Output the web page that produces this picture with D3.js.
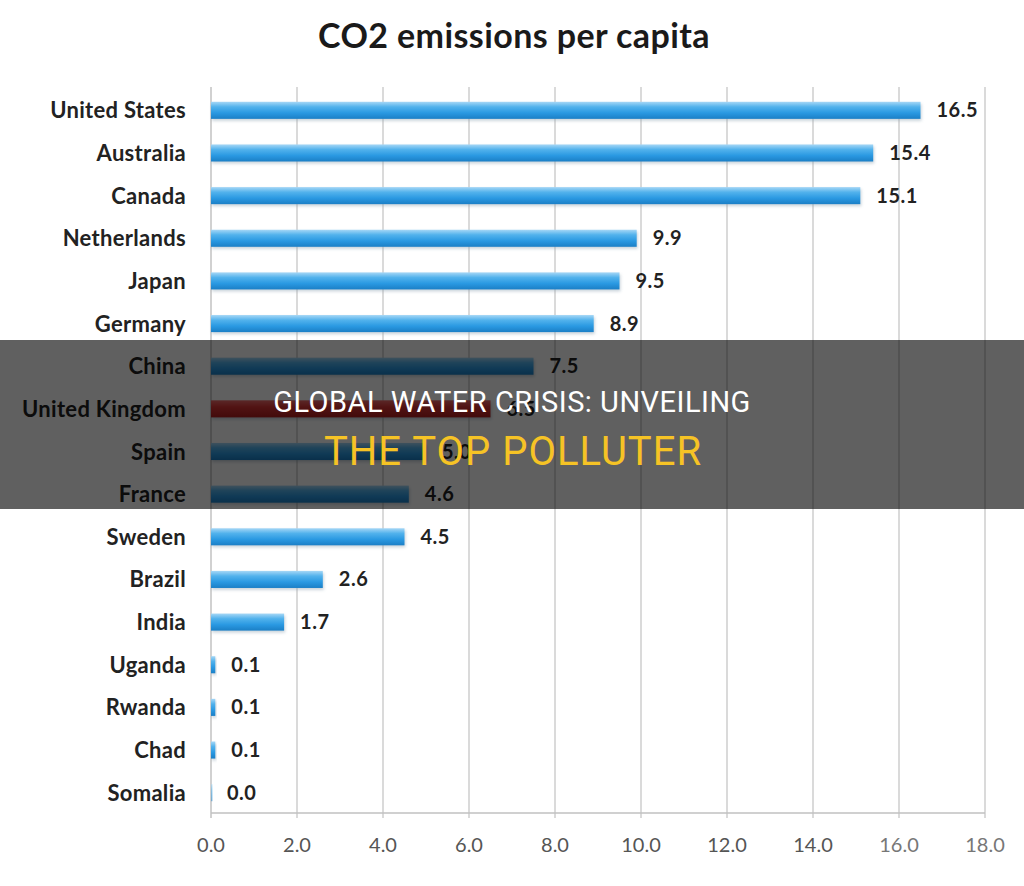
<!DOCTYPE html>
<html>
<head>
<meta charset="utf-8">
<script src="https://cdn.jsdelivr.net/npm/d3@7"></script>
<style>
  html, body { margin: 0; padding: 0; background: #ffffff; }
  svg { display: block; }
</style>
</head>
<body>
<svg id="chart" width="1024" height="886"></svg>
<script>
const countries = ["United States", "Australia", "Canada", "Netherlands", "Japan", "Germany", "China", "United Kingdom", "Spain", "France", "Sweden", "Brazil", "India", "Uganda", "Rwanda", "Chad", "Somalia"];
const emissions = [16.5, 15.4, 15.1, 9.9, 9.5, 8.9, 7.5, 6.5, 5.0, 4.6, 4.5, 2.6, 1.7, 0.1, 0.1, 0.1, 0.0];
const highlighted = ["United Kingdom"];
const xTicks = [0, 2, 4, 6, 8, 10, 12, 14, 16, 18];
const chartTitle = "CO2 emissions per capita";
const bannerLine1 = "GLOBAL WATER CRISIS: UNVEILING";
const bannerLine2 = "THE TOP POLLUTER";

const data = countries.map((c, i) => ({ country: c, value: emissions[i] }));

const svg = d3.select("#chart");
const W = 1024, H = 886;
const margin = { left: 211, right: 39, top: 88, bottom: 73 };
const plotBottom = H - margin.bottom; // 813

const x = d3.scaleLinear().domain([0, 18]).range([margin.left, W - margin.right]);
const y = d3.scaleBand().domain(countries).range([margin.top + 1, plotBottom + 1]).paddingInner(0.6).paddingOuter(0.3);

const defs = svg.append("defs");
const gBlue = defs.append("linearGradient").attr("id", "gBlue").attr("x1", 0).attr("y1", 0).attr("x2", 0).attr("y2", 1);
gBlue.append("stop").attr("offset", "0%").attr("stop-color", "#a6d7f6");
gBlue.append("stop").attr("offset", "30%").attr("stop-color", "#52b2ec");
gBlue.append("stop").attr("offset", "65%").attr("stop-color", "#2a99e2");
gBlue.append("stop").attr("offset", "100%").attr("stop-color", "#1b7fc6");
const gRed = defs.append("linearGradient").attr("id", "gRed").attr("x1", 0).attr("y1", 0).attr("x2", 0).attr("y2", 1);
gRed.append("stop").attr("offset", "0%").attr("stop-color", "#f06a6a");
gRed.append("stop").attr("offset", "40%").attr("stop-color", "#d83434");
gRed.append("stop").attr("offset", "100%").attr("stop-color", "#b01e1e");
const blur = defs.append("filter").attr("id", "shadow").attr("x", "-5%").attr("y", "-50%").attr("width", "110%").attr("height", "200%");
blur.append("feGaussianBlur").attr("stdDeviation", 1.5);

const labelFont = "Lato, 'Open Sans', sans-serif";

// Title
svg.append("text")
  .attr("x", 514).attr("y", 48)
  .attr("text-anchor", "middle")
  .style("font-family", labelFont)
  .style("font-weight", "bold")
  .style("font-size", "34px")
  .style("letter-spacing", "0.4px")
  .style("fill", "#1a1a1a")
  .text(chartTitle);

// Gridlines
svg.append("g").selectAll("line").data(xTicks).join("line")
  .attr("x1", d => x(d)).attr("x2", d => x(d))
  .attr("y1", margin.top - 1).attr("y2", plotBottom + 5)
  .attr("stroke", d => d === 0 ? "#b8b8b8" : "#c6c6c6")
  .attr("stroke-width", 1.3);

// X axis line
svg.append("line")
  .attr("x1", x(0)).attr("x2", x(18))
  .attr("y1", plotBottom).attr("y2", plotBottom)
  .attr("stroke", "#c0c0c0").attr("stroke-width", 1.5);

// X tick labels
svg.append("g").selectAll("text").data(xTicks).join("text")
  .attr("x", d => x(d)).attr("y", plotBottom + 39)
  .attr("text-anchor", "middle")
  .style("font-family", labelFont)
  .style("font-size", "20px")
  .style("fill", d => d >= 16 ? "#777" : "#555")
  .text(d => d3.format(".1f")(d));

// Bar shadows
svg.append("g").selectAll("rect").data(data).join("rect")
  .attr("x", x(0) + 1)
  .attr("y", d => y(d.country) + 2)
  .attr("width", d => Math.max(0, x(d.value) - x(0)))
  .attr("height", y.bandwidth())
  .attr("fill", "#8aa0b0")
  .attr("opacity", 0.45)
  .attr("filter", "url(#shadow)");

// Bars
svg.append("g").selectAll("rect").data(data).join("rect")
  .attr("x", x(0))
  .attr("y", d => y(d.country))
  .attr("width", d => Math.max(1.5, x(d.value) - x(0)))
  .attr("height", y.bandwidth())
  .attr("fill", d => highlighted.includes(d.country) ? "url(#gRed)" : "url(#gBlue)")
  .attr("opacity", d => d.value < 0.05 ? 0.5 : 1);

// Country labels
svg.append("g").selectAll("text").data(data).join("text")
  .attr("x", 186)
  .attr("y", d => y(d.country) + y.bandwidth() / 2 + 8)
  .attr("text-anchor", "end")
  .style("font-family", labelFont)
  .style("font-weight", "bold")
  .style("font-size", "22px")
  .style("letter-spacing", "0.3px")
  .style("fill", "#222")
  .text(d => d.country);

// Value labels
svg.append("g").selectAll("text").data(data).join("text")
  .attr("x", d => x(d.value) + 16)
  .attr("y", d => y(d.country) + y.bandwidth() / 2 + 7)
  .style("font-family", labelFont)
  .style("font-weight", "bold")
  .style("font-size", "20px")
  .style("letter-spacing", "0.5px")
  .style("fill", "#222")
  .text(d => d3.format(".1f")(d.value));

// Banner overlay
svg.append("rect")
  .attr("x", 0).attr("y", 340).attr("width", W).attr("height", 169)
  .attr("fill", "#000").attr("opacity", 0.625);

svg.append("text")
  .attr("x", 512).attr("y", 412)
  .attr("text-anchor", "middle")
  .style("font-family", "Roboto, 'Open Sans', sans-serif")
  .style("font-size", "29px")
  .style("letter-spacing", "0.5px")
  .style("fill", "#ffffff")
  .text(bannerLine1);

svg.append("text")
  .attr("x", 513).attr("y", 465)
  .attr("text-anchor", "middle")
  .style("font-family", "Roboto, 'Open Sans', sans-serif")
  .style("font-size", "40px")
  .style("letter-spacing", "1px")
  .style("fill", "#f6c325")
  .text(bannerLine2);
</script>
</body>
</html>
